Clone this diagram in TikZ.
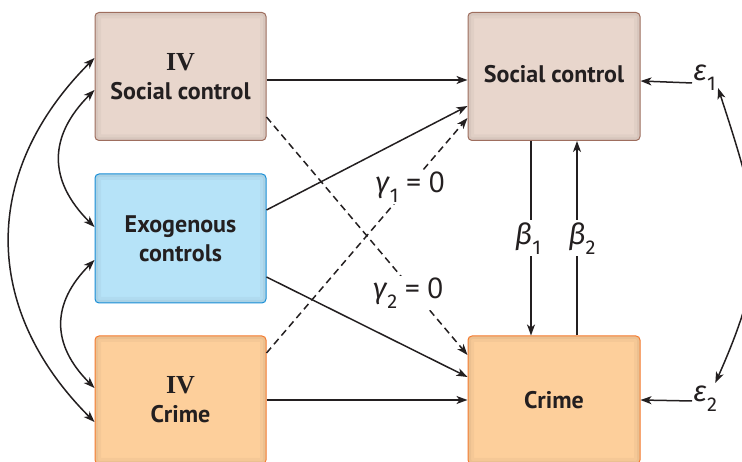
\documentclass[tikz,border=0pt]{standalone}
\usepackage{fontspec}
\setmainfont{PT Sans}
\newfontfamily\ivfont{Liberation Serif}
\newfontfamily\grkfont{Fira Sans}
\usepackage{tikz}
\usetikzlibrary{arrows.meta}

\definecolor{scfill}{HTML}{E8D6CC}
\definecolor{scline}{HTML}{9E6E5E}
\definecolor{exofill}{HTML}{B6E3F8}
\definecolor{exoline}{HTML}{1A8ED6}
\definecolor{crfill}{HTML}{FDCF9B}
\definecolor{crline}{HTML}{F47B30}
\definecolor{ink}{HTML}{231F20}

\newcommand{\grksub}[2]{{\grkfont\itshape #1\/}\raisebox{-10pt}{\grkfont\fontsize{20}{20}\selectfont #2}}

\begin{document}
\begin{tikzpicture}[x=1pt, y=1pt,
    box/.style={rounded corners=4pt, line width=1pt, minimum width=171pt,
                minimum height=128pt, align=center, text=ink,
                font=\bfseries\fontsize{24}{29}\selectfont,
                path picture={\draw[line width=12pt, draw=black, opacity=0.03]
                    (path picture bounding box.south west) rectangle (path picture bounding box.north east);
                  \draw[line width=6pt, draw=black, opacity=0.04]
                    (path picture bounding box.south west) rectangle (path picture bounding box.north east);}},
    arr/.style={line width=1.5pt, draw=ink, -{Stealth[length=11pt, width=8pt, inset=3pt]}},
    dbl/.style={line width=1.5pt, draw=ink, {Stealth[length=11pt, width=8pt, inset=3pt]}-{Stealth[length=11pt, width=8pt, inset=3pt]}},
    dsh/.style={arr, dash pattern=on 7pt off 4.5pt},
    lbl/.style={fill=white, inner sep=2pt, text=ink, font=\fontsize{29}{32}\selectfont}]
\useasboundingbox (0,0) rectangle (742,462);
\clip (0,0) rectangle (742,462);

\node[box, fill=scfill,  draw=scline]  (ivsc)    at (180.5,385.5) {{\ivfont\fontsize{26}{29}\selectfont IV}\\Social control};
\node[box, fill=exofill, draw=exoline, minimum height=129pt] (exo) at (180.5,223.5) {Exogenous\\controls};
\node[box, fill=crfill,  draw=crline]  (ivcrime) at (180.5,62)    {{\ivfont\fontsize{26}{29}\selectfont IV}\\Crime};
\node[box, fill=scfill,  draw=scline, minimum width=172pt] (sc)    at (554,385.5) {\raisebox{6pt}{Social control}};
\node[box, fill=crfill,  draw=crline, minimum width=172pt] (crime) at (554,62)    {Crime};

\node[lbl, anchor=west, inner sep=1pt] (eps1) at (692,384) {\grksub{ε}{1}};
\node[lbl, anchor=west, inner sep=1pt] (eps2) at (692,63)  {\grksub{ε}{2}};

\draw[arr] ([yshift=-3.5pt]ivsc.east) -- ([yshift=-3.5pt]sc.west);
\draw[dsh] ([yshift=-40.5pt]ivsc.east) -- ([yshift=45pt]crime.west);
\draw[arr] ([yshift=28.5pt]exo.east) -- ([yshift=-29.5pt]sc.west);
\draw[arr] ([yshift=-38.5pt]exo.east) -- ([yshift=23pt]crime.west);
\draw[dsh] ([yshift=47pt]ivcrime.east) -- ([yshift=-41.5pt]sc.west);
\draw[arr] (ivcrime.east) -- (crime.west);

\draw[arr] ([xshift=-23pt]sc.south) -- node[lbl, xshift=-3pt] (b1) {\grksub{β}{1}} ([xshift=-23pt]crime.north);
\draw[arr] ([xshift=23pt]crime.north) -- node[lbl, xshift=5pt] (b2) {\grksub{β}{2}} ([xshift=23pt]sc.south);

\node[lbl] (g1) at (410,275) {\grksub{γ}{1} = 0};
\node[lbl] (g2) at (408,169) {\grksub{γ}{2} = 0};

\draw[arr] ([yshift=-5pt]eps1.west) -- ([yshift=-4.5pt]sc.east);
\draw[arr] ([yshift=-2pt]eps2.west) -- (crime.east);
\draw[dbl] ([xshift=1pt, yshift=4pt]eps1.south east) to[out=-72, in=66, looseness=1.2] ([xshift=-3pt, yshift=2pt]eps2.north east);

\draw[dbl] ([yshift=18.5pt]ivsc.west) to[out=225, in=135, looseness=1.13] ([yshift=-22pt]ivcrime.west);
\draw[dbl] ([yshift=-13.5pt]ivsc.west) to[out=225, in=135, looseness=1.23] ([yshift=11.5pt]exo.west);
\draw[dbl] ([yshift=-21.5pt]exo.west) to[out=225, in=135, looseness=1.23] ([yshift=12pt]ivcrime.west);
\end{tikzpicture}
\end{document}
